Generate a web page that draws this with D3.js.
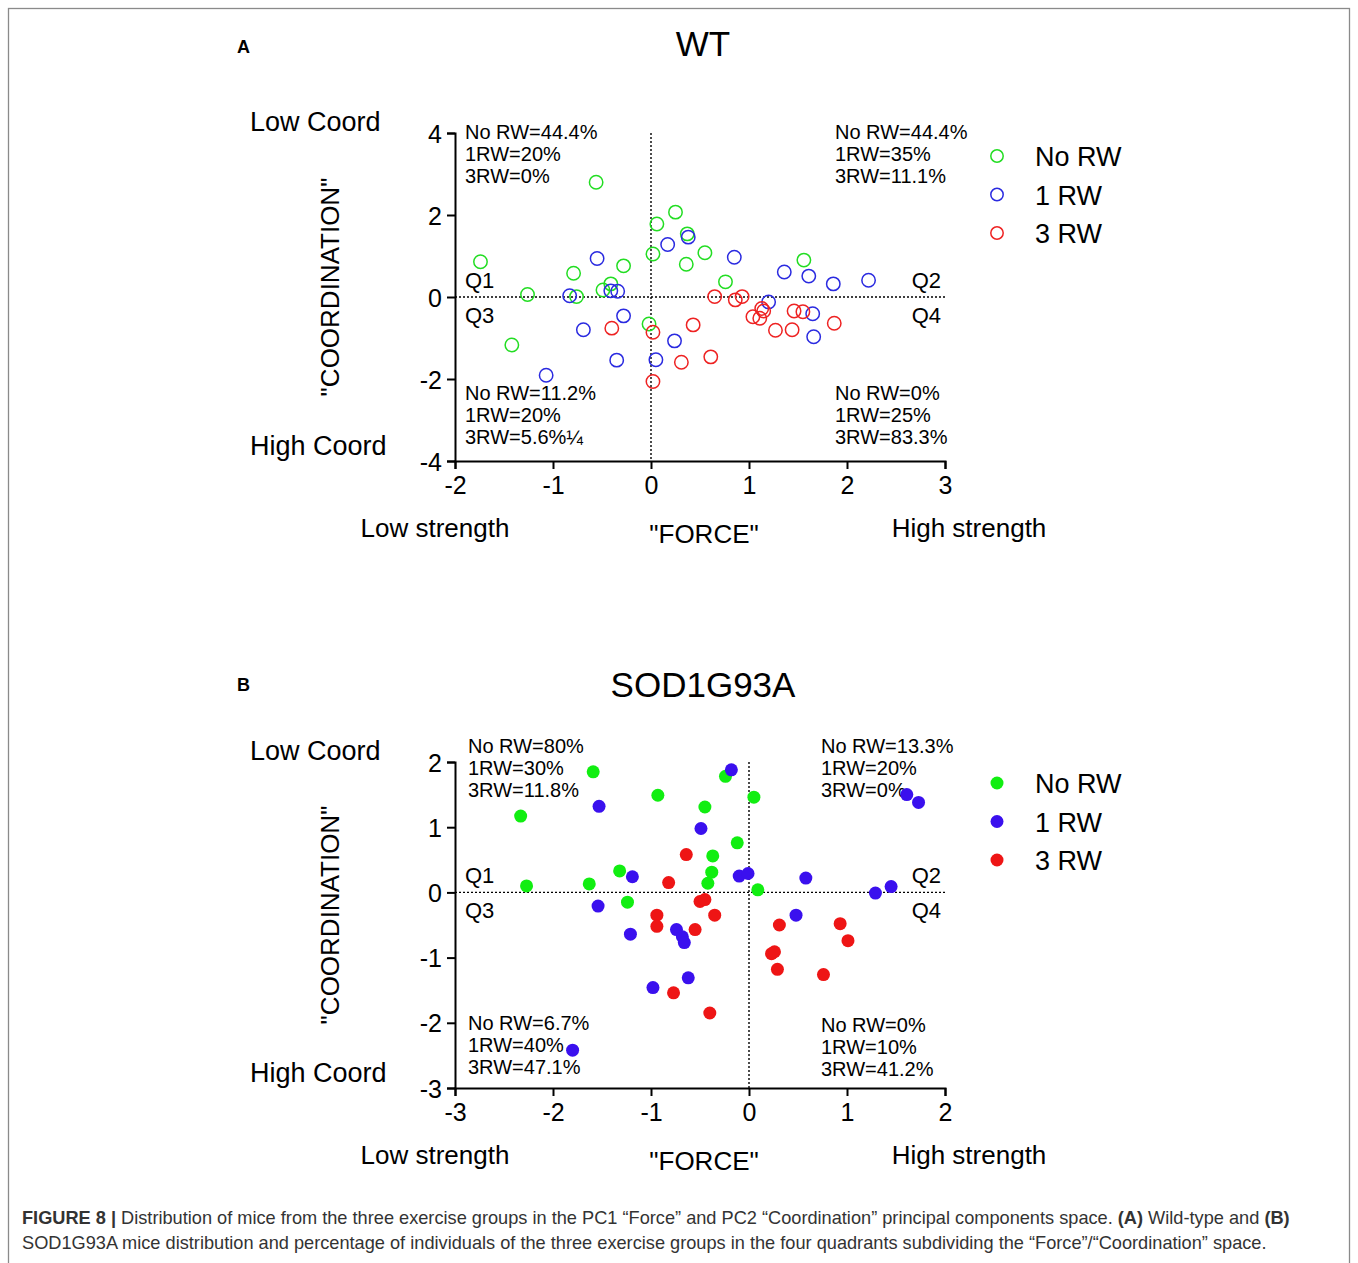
<!DOCTYPE html>
<html>
<head>
<meta charset="utf-8">
<script src="https://cdnjs.cloudflare.com/ajax/libs/d3/7.8.5/d3.min.js"></script>
<style>
  html, body { margin: 0; padding: 0; background: #fff; }
  svg text { font-family: "Liberation Sans", Arial, sans-serif; }
</style>
</head>
<body>
<svg id="fig" width="1358" height="1263"></svg>
<script>
'use strict';

// ---- data (PC1 "Force", PC2 "Coordination") ----
var groups = ['No RW', '1 RW', '3 RW'];

var wtNoRW = [
  [-0.56, 2.80], [-1.74, 0.86], [-0.79, 0.58], [-0.28, 0.76], [-1.26, 0.06], [-0.76, 0.01],
  [-0.49, 0.17], [-0.41, 0.32], [0.02, 1.05], [0.06, 1.78], [0.25, 2.07], [0.37, 1.54],
  [0.36, 0.80], [0.55, 1.08], [0.76, 0.37], [1.56, 0.90], [-1.42, -1.17], [-0.02, -0.66]
];
var wt1RW = [
  [-0.55, 0.94], [-0.83, 0.03], [-0.41, 0.15], [-0.34, 0.14], [0.17, 1.28], [0.38, 1.46],
  [0.85, 0.97], [1.36, 0.61], [1.61, 0.51], [1.86, 0.32], [2.22, 0.41], [1.20, -0.12],
  [1.65, -0.41], [1.66, -0.97], [0.24, -1.07], [0.05, -1.53], [-0.28, -0.46], [-0.69, -0.80],
  [-0.35, -1.54], [-1.07, -1.91]
];
var wt3RW = [
  [0.65, 0.01], [0.93, 0.01], [-0.40, -0.76], [0.86, -0.07], [1.13, -0.28], [1.15, -0.34],
  [1.04, -0.48], [1.11, -0.52], [1.46, -0.34], [1.55, -0.36], [1.27, -0.81], [1.44, -0.80],
  [1.87, -0.64], [0.43, -0.68], [0.02, -0.86], [0.31, -1.59], [0.61, -1.46], [0.02, -2.06]
];

var sodNoRW = [
  [-2.33, 1.17], [-2.27, 0.10], [-1.59, 1.85], [-1.63, 0.13], [-1.32, 0.33], [-1.24, -0.15],
  [-0.93, 1.49], [-0.45, 1.31], [-0.24, 1.78], [-0.12, 0.76], [-0.37, 0.56], [-0.38, 0.31],
  [-0.42, 0.14], [0.05, 1.46], [0.09, 0.04]
];
var sod1RW = [
  [-1.53, 1.32], [-1.19, 0.24], [-0.49, 0.98], [-0.18, 1.88], [-0.10, 0.25], [-0.01, 0.29],
  [0.58, 0.22], [1.61, 1.50], [1.73, 1.38], [1.45, 0.09], [1.29, -0.01], [0.48, -0.35],
  [-1.54, -0.21], [-1.21, -0.64], [-0.74, -0.57], [-0.68, -0.68], [-0.66, -0.77], [-0.62, -1.31],
  [-0.98, -1.46], [-1.80, -2.42]
];
var sod3RW = [
  [-0.64, 0.58], [-0.82, 0.15], [-0.50, -0.14], [-0.45, -0.11], [-0.35, -0.35], [-0.94, -0.35],
  [-0.94, -0.52], [-0.55, -0.57], [-0.77, -1.54], [-0.40, -1.85], [0.31, -0.50], [0.93, -0.48],
  [1.01, -0.74], [0.23, -0.94], [0.26, -0.91], [0.29, -1.18], [0.76, -1.26]
];

var wtXTicks = [-2, -1, 0, 1, 2, 3];
var wtYTicks = [-4, -2, 0, 2, 4];
var sodXTicks = [-3, -2, -1, 0, 1, 2];
var sodYTicks = [-3, -2, -1, 0, 1, 2];

// quadrant percentages: Q1 (top left), Q2 (top right), Q3 (bottom left), Q4 (bottom right)
var wtQuadText = [
  ['No RW=44.4%', '1RW=20%', '3RW=0%'],
  ['No RW=44.4%', '1RW=35%', '3RW=11.1%'],
  ['No RW=11.2%', '1RW=20%', '3RW=5.6%\u00bc'],
  ['No RW=0%', '1RW=25%', '3RW=83.3%']
];
var sodQuadText = [
  ['No RW=80%', '1RW=30%', '3RW=11.8%'],
  ['No RW=13.3%', '1RW=20%', '3RW=0%'],
  ['No RW=6.7%', '1RW=40%', '3RW=47.1%'],
  ['No RW=0%', '1RW=10%', '3RW=41.2%']
];

var svg = d3.select('#fig');

// figure frame
svg.append('rect')
    .attr('x', 8.5).attr('y', 8.5)
    .attr('width', 1341).attr('height', 1270)
    .attr('fill', 'none')
    .attr('stroke', '#8a8a8a')
    .attr('stroke-width', 1.3);

function drawPanel(opts) {
    var g = svg.append('g');
    var x = d3.scaleLinear().domain(opts.xDomain).range([455, 945]);
    var y = d3.scaleLinear().domain(opts.yDomain).range([opts.bottom, opts.top]);

    // panel letter and title
    g.append('text').attr('x', opts.letterX).attr('y', opts.letterY)
        .attr('font-size', 18).attr('font-weight', 'bold').text(opts.letter);
    g.append('text').attr('x', 703).attr('y', opts.titleY)
        .attr('text-anchor', 'middle').attr('font-size', 35).text(opts.title);

    // zero lines
    g.append('line')
        .attr('x1', x.range()[0]).attr('x2', x.range()[1])
        .attr('y1', y(0)).attr('y2', y(0))
        .attr('stroke', '#000').attr('stroke-width', 1.4).attr('stroke-dasharray', '2,2');
    g.append('line')
        .attr('x1', x(0)).attr('x2', x(0))
        .attr('y1', opts.top).attr('y2', opts.bottom)
        .attr('stroke', '#000').attr('stroke-width', 1.4).attr('stroke-dasharray', '2,2');

    // axes
    var xAxis = g.append('g').attr('transform', 'translate(0,' + opts.bottom + ')')
        .call(d3.axisBottom(x).tickValues(opts.xTicks).tickSize(8).tickPadding(6)
            .tickFormat(d3.format('d')));
    var yAxis = g.append('g').attr('transform', 'translate(455,0)')
        .call(d3.axisLeft(y).tickValues(opts.yTicks).tickSize(8).tickPadding(5)
            .tickFormat(d3.format('d')));
    [xAxis, yAxis].forEach(function(ax) {
        ax.select('.domain').attr('stroke', '#000').attr('stroke-width', 2);
        ax.selectAll('.tick line').attr('stroke', '#000').attr('stroke-width', 2);
        ax.selectAll('.tick text').attr('fill', '#000').attr('font-size', 25)
            .attr('font-family', '"Liberation Sans", Arial, sans-serif')
            .text(function(d) { return d < 0 ? '-' + Math.abs(d) : d; });
    });
    xAxis.selectAll('.tick text').attr('dy', '0.75em');
    yAxis.selectAll('.tick text').attr('dy', '0.36em');

    // axis captions
    var fs = 26;
    g.append('text').attr('x', 250).attr('y', opts.top - 2).attr('font-size', 27).text('Low Coord');
    g.append('text').attr('x', 250).attr('y', opts.bottom - 6).attr('font-size', 27).text('High Coord');
    g.append('text')
        .attr('transform', 'translate(339,' + ((opts.top + opts.bottom) / 2 - 10) + ') rotate(-90)')
        .attr('text-anchor', 'middle').attr('font-size', fs).text('"COORDINATION"');
    g.append('text').attr('x', 435).attr('y', opts.bottom + 76)
        .attr('text-anchor', 'middle').attr('font-size', fs).text('Low strength');
    g.append('text').attr('x', 969).attr('y', opts.bottom + 76)
        .attr('text-anchor', 'middle').attr('font-size', fs).text('High strength');
    g.append('text').attr('x', 704).attr('y', opts.bottom + 82)
        .attr('text-anchor', 'middle').attr('font-size', fs).text('"FORCE"');

    // quadrant names
    var q = g.append('g').attr('font-size', 22);
    q.append('text').attr('x', 465).attr('y', y(0) - 9).text('Q1');
    q.append('text').attr('x', 941).attr('y', y(0) - 9).attr('text-anchor', 'end').text('Q2');
    q.append('text').attr('x', 465).attr('y', y(0) + 26).text('Q3');
    q.append('text').attr('x', 941).attr('y', y(0) + 26).attr('text-anchor', 'end').text('Q4');

    // quadrant percentages
    var qPos = opts.quadPos;
    opts.quadText.forEach(function(lines, i) {
        g.append('g').selectAll('text').data(lines).join('text')
            .attr('x', qPos[i][0])
            .attr('y', function(d, j) { return qPos[i][1] + j * 22; })
            .attr('font-size', 20)
            .text(function(d) { return d; });
    });

    // points
    opts.series.forEach(function(pts, i) {
        g.append('g').selectAll('circle').data(pts).join('circle')
            .attr('cx', function(d) { return x(d[0]); })
            .attr('cy', function(d) { return y(d[1]); })
            .attr('r', opts.filled ? 6.5 : 6.7)
            .attr('fill', opts.filled ? opts.colors[i] : 'none')
            .attr('stroke', opts.filled ? 'none' : opts.colors[i])
            .attr('stroke-width', 1.5);
    });

    // legend
    var leg = g.append('g');
    groups.forEach(function(name, i) {
        var ly = opts.legendY + i * 38.5;
        leg.append('circle').attr('cx', 997).attr('cy', ly)
            .attr('r', opts.filled ? 6.5 : 6.2)
            .attr('fill', opts.filled ? opts.colors[i] : 'none')
            .attr('stroke', opts.filled ? 'none' : opts.colors[i])
            .attr('stroke-width', 1.5);
        leg.append('text').attr('x', 1035).attr('y', ly + 10)
            .attr('font-size', 27).text(name);
    });
}

drawPanel({
    letter: 'A', letterX: 237, letterY: 53, title: 'WT', titleY: 56,
    top: 133, bottom: 461,
    xDomain: [-2, 3], yDomain: [-4, 4],
    xTicks: wtXTicks, yTicks: wtYTicks,
    quadText: wtQuadText,
    quadPos: [[465, 139], [835, 139], [465, 400], [835, 400]],
    series: [wtNoRW, wt1RW, wt3RW],
    colors: ['#22dd22', '#2a2ae0', '#ee2222'],
    filled: false,
    legendY: 156
});

drawPanel({
    letter: 'B', letterX: 237, letterY: 691, title: 'SOD1G93A', titleY: 697,
    top: 762, bottom: 1088,
    xDomain: [-3, 2], yDomain: [-3, 2],
    xTicks: sodXTicks, yTicks: sodYTicks,
    quadText: sodQuadText,
    quadPos: [[468, 753], [821, 753], [468, 1030], [821, 1032]],
    series: [sodNoRW, sod1RW, sod3RW],
    colors: ['#11ee11', '#3a10ee', '#ee1515'],
    filled: true,
    legendY: 783
});

// caption
var cap = svg.append('g').attr('fill', '#333').attr('font-size', 18.2);
var line1 = cap.append('text').attr('x', 22).attr('y', 1224);
line1.append('tspan').attr('font-weight', 'bold').text('FIGURE 8 | ');
line1.append('tspan').text('Distribution of mice from the three exercise groups in the PC1 \u201cForce\u201d and PC2 \u201cCoordination\u201d principal components space. ');
line1.append('tspan').attr('font-weight', 'bold').text('(A)');
line1.append('tspan').text(' Wild-type and ');
line1.append('tspan').attr('font-weight', 'bold').text('(B)');
cap.append('text').attr('x', 22).attr('y', 1249)
    .text('SOD1G93A mice distribution and percentage of individuals of the three exercise groups in the four quadrants subdividing the \u201cForce\u201d/\u201cCoordination\u201d space.');
</script>
</body>
</html>
